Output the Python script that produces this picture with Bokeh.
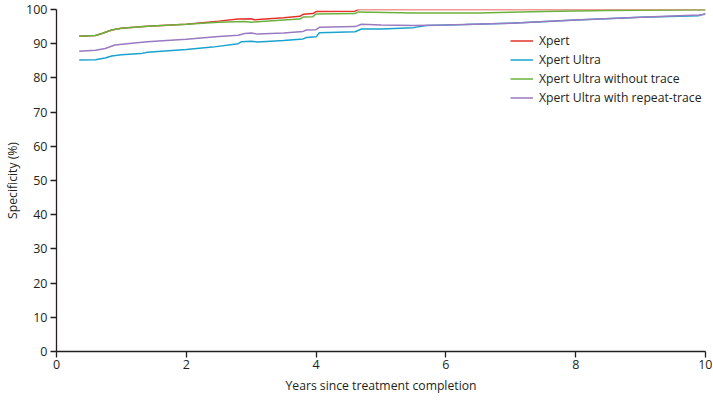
from bokeh.plotting import figure
from bokeh.embed import file_html
from bokeh.resources import INLINE
from bokeh.models import Range1d, FixedTicker, Legend, LegendItem

# Years since treatment completion / specificity (%)
x_xpert = [0.35, 0.6, 0.7, 0.85, 1.0, 1.4, 2.0, 2.5, 2.8, 3.0, 3.05, 3.5, 3.75, 3.8, 3.95, 4.0, 4.6, 4.65, 10.0]
y_xpert = [92.2, 92.4, 93.0, 94.0, 94.5, 95.1, 95.7, 96.6, 97.2, 97.3, 97.0, 97.6, 98.0, 98.6, 98.8, 99.4, 99.5, 100.0, 100.0]

x_ultra = [0.35, 0.6, 0.75, 0.85, 1.0, 1.3, 1.4, 2.0, 2.4, 2.8, 2.85, 3.0, 3.1, 3.5, 3.8, 3.85, 4.0, 4.05, 4.6, 4.7, 5.0, 5.5, 5.7, 6.3, 7.0, 8.0, 9.0, 9.9, 10.0]
y_ultra = [85.2, 85.3, 85.8, 86.4, 86.8, 87.1, 87.5, 88.3, 89.0, 90.0, 90.6, 90.7, 90.5, 90.9, 91.4, 91.8, 92.0, 93.2, 93.5, 94.3, 94.3, 94.7, 95.3, 95.6, 96.0, 96.9, 97.7, 98.2, 98.8]

x_notrace = [0.35, 0.6, 0.7, 0.85, 1.0, 1.4, 2.0, 2.5, 2.9, 3.0, 3.5, 3.75, 3.8, 3.95, 4.0, 4.6, 4.65, 5.5, 6.5, 7.5, 8.5, 10.0]
y_notrace = [92.2, 92.4, 93.0, 94.0, 94.5, 95.1, 95.7, 96.3, 96.5, 96.3, 96.9, 97.2, 97.8, 97.9, 98.7, 98.8, 99.3, 99.0, 99.0, 99.4, 99.7, 99.9]

x_repeat = [0.35, 0.6, 0.75, 0.9, 1.2, 1.4, 2.0, 2.5, 2.8, 2.9, 3.0, 3.1, 3.5, 3.8, 3.85, 4.0, 4.05, 4.6, 4.7, 5.0, 5.5, 6.0, 7.0, 8.0, 9.0, 9.9, 10.0]
y_repeat = [87.8, 88.1, 88.6, 89.6, 90.2, 90.6, 91.3, 92.1, 92.5, 93.0, 93.1, 92.8, 93.1, 93.6, 94.0, 94.1, 94.8, 95.0, 95.7, 95.5, 95.3, 95.5, 96.0, 96.9, 97.7, 98.4, 98.6]

series_names = ["Xpert", "Xpert Ultra", "Xpert Ultra without trace", "Xpert Ultra with repeat-trace"]
series_colors = ["#e4322b", "#1ba3cf", "#6ab23e", "#9a7ac0"]

x_ticks = [0, 2, 4, 6, 8, 10]
y_ticks = [0, 10, 20, 30, 40, 50, 60, 70, 80, 90, 100]

FONT = "Open Sans"
TXT = "#231f20"

p = figure(width=712, height=399, output_backend="svg", toolbar_location=None,
           x_range=Range1d(0, 10), y_range=Range1d(0, 100),
           min_border_left=56, min_border_right=7, min_border_top=9, min_border_bottom=48)
p.outline_line_color = None
p.xgrid.grid_line_color = None
p.ygrid.grid_line_color = None

renderers = []
for xs, ys, c in zip([x_xpert, x_ultra, x_notrace, x_repeat],
                     [y_xpert, y_ultra, y_notrace, y_repeat], series_colors):
    r = p.line(xs, ys, line_color=c, line_width=1.5)
    renderers.append(r)

legend = Legend(items=[LegendItem(label=n, renderers=[r]) for n, r in zip(series_names, renderers)],
                location=(454, 244))
legend.background_fill_alpha = 0
legend.border_line_color = None
legend.label_text_font = FONT
legend.label_text_font_size = "12.2px"
legend.label_text_color = TXT
legend.glyph_width = 23
legend.glyph_height = 19
legend.label_height = 19
legend.spacing = 0
legend.padding = 0
legend.margin = 0
legend.label_standoff = 6
p.add_layout(legend, "center")

for ax in (p.xaxis[0], p.yaxis[0]):
    ax.axis_line_color = "#231f20"
    ax.axis_line_width = 1.3
    ax.major_tick_line_color = "#231f20"
    ax.major_tick_line_width = 1.3
    ax.major_tick_in = 0
    ax.major_tick_out = 6
    ax.minor_tick_line_color = None
    ax.major_label_text_font = FONT
    ax.major_label_text_font_size = "12.5px"
    ax.major_label_text_color = TXT
    ax.axis_label_text_font = FONT
    ax.axis_label_text_font_size = "12.2px"
    ax.axis_label_text_font_style = "normal"
    ax.axis_label_text_color = TXT

p.xaxis.ticker = FixedTicker(ticks=x_ticks)
p.yaxis.ticker = FixedTicker(ticks=y_ticks)
p.xaxis.axis_label = "Years since treatment completion"
p.yaxis.axis_label = "Specificity (%)"
p.xaxis.major_label_standoff = 2
p.yaxis.major_label_standoff = 3
p.xaxis.axis_label_standoff = 5
p.yaxis.axis_label_standoff = 2

open("out.html", "w").write(file_html(p, INLINE))
